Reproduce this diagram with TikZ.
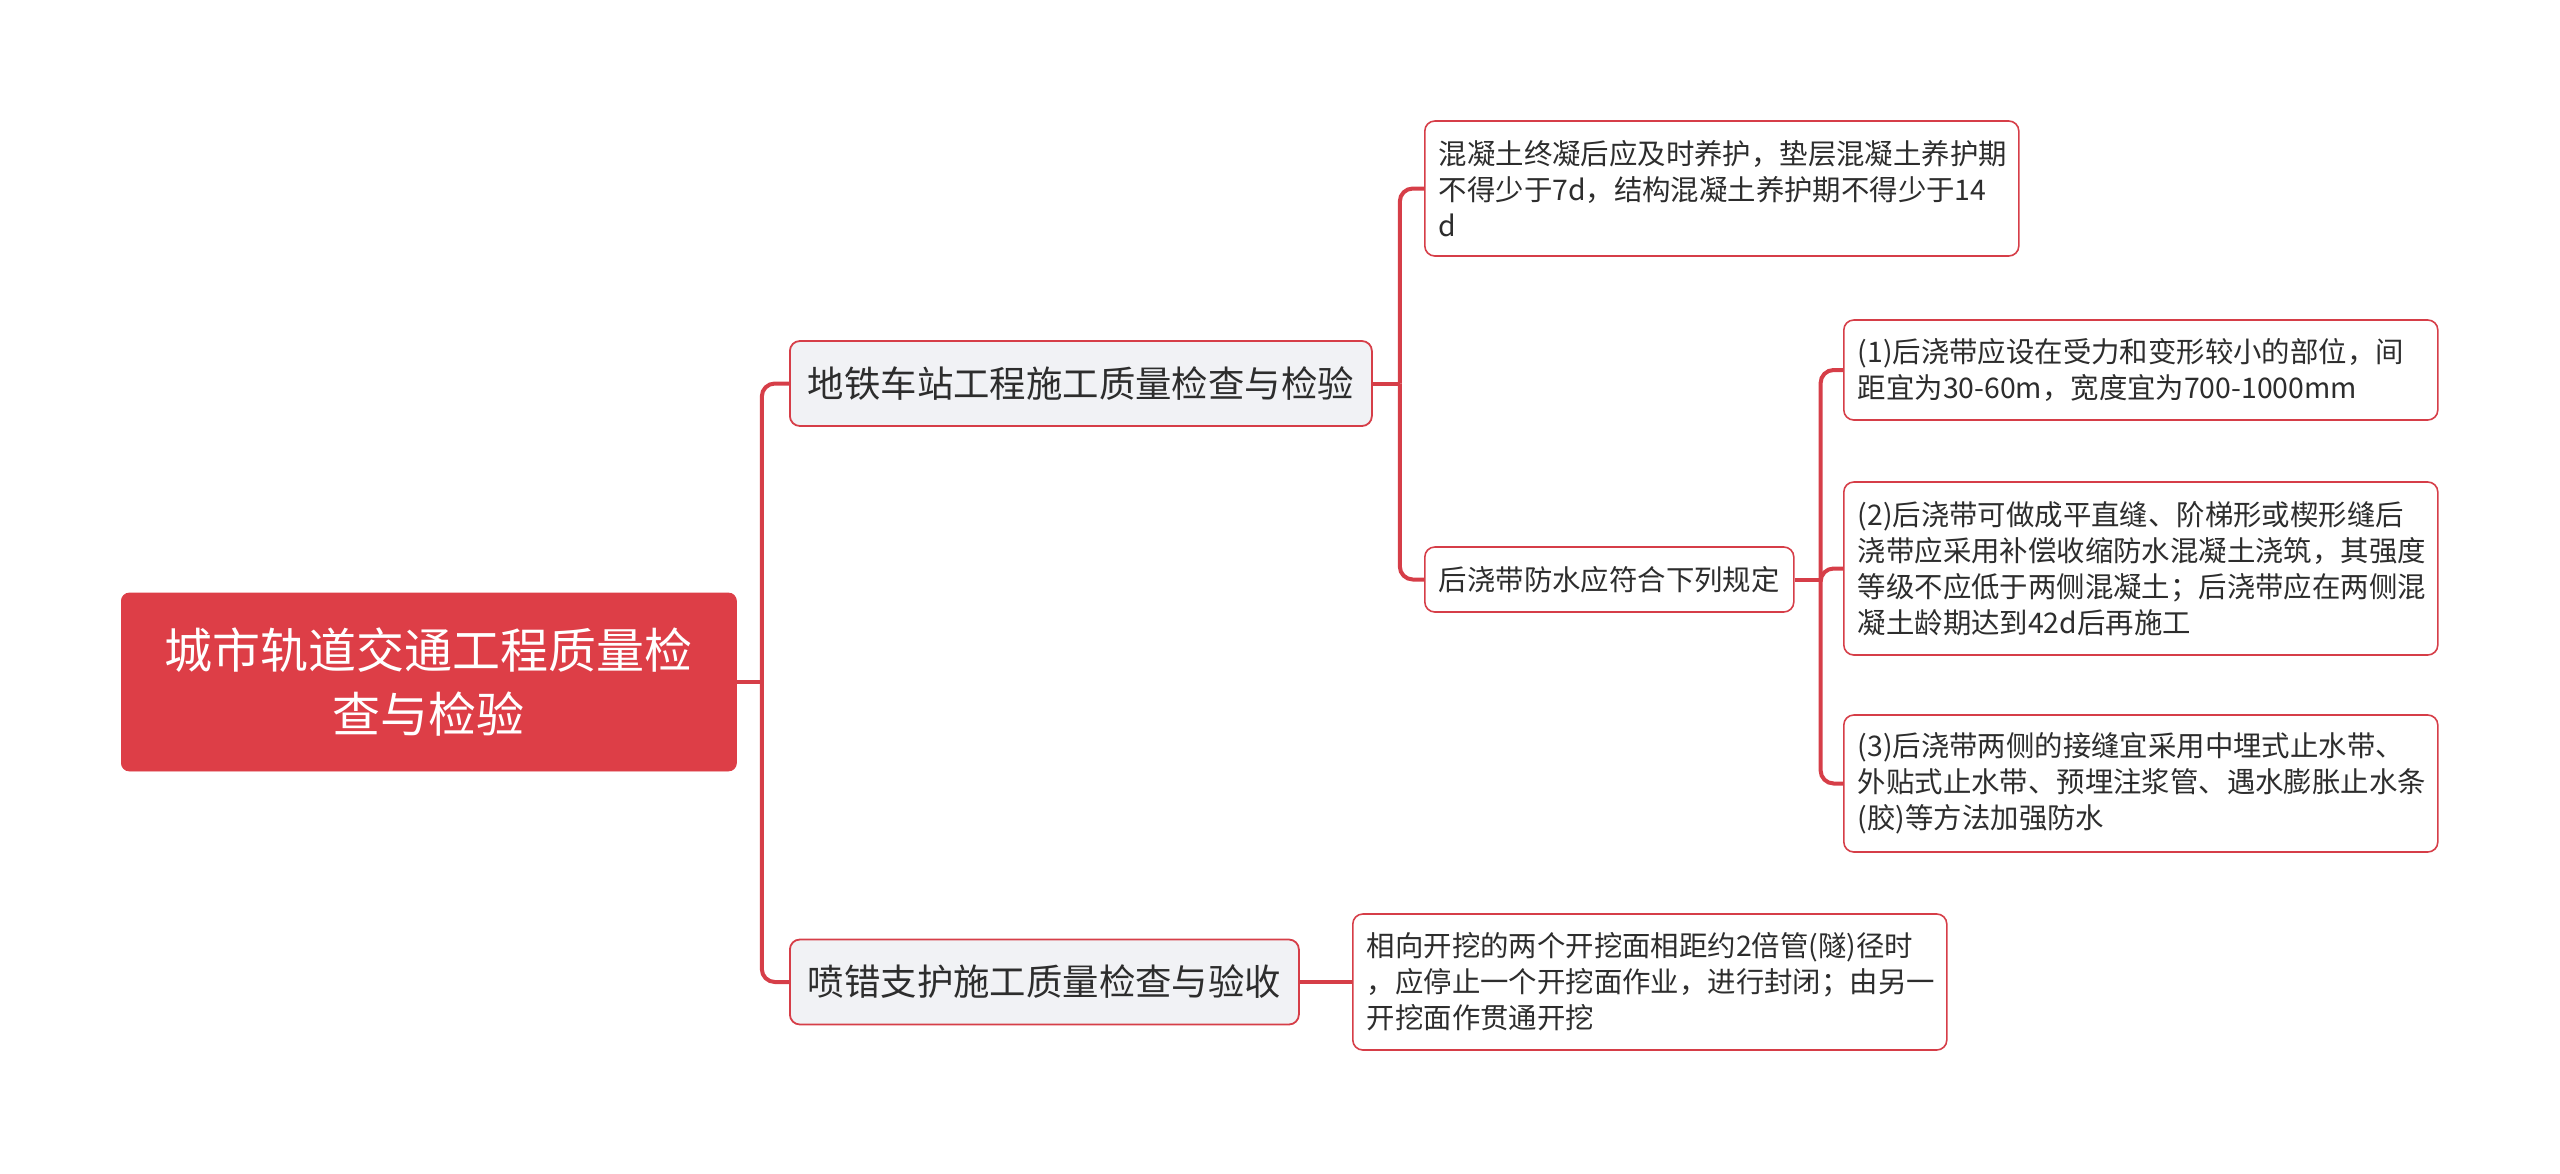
\documentclass[tikz,border=0pt]{standalone}
\usepackage{fontspec}
\setmainfont{Noto Sans CJK SC}
\definecolor{linkred}{RGB}{214,62,72}
\definecolor{rootred}{RGB}{221,62,71}
\definecolor{subgray}{RGB}{241,242,245}
\definecolor{txtdark}{RGB}{45,45,45}

\begin{document}
\begin{tikzpicture}[x=0.5pt,y=-0.5pt,
  link/.style={draw=linkred,line width=2pt,rounded corners=6.5pt},
  rootbox/.style={anchor=west,fill=rootred,draw=rootred,rounded corners=4pt,text=white,align=center,inner sep=0pt,font=\fontsize{24pt}{32pt}\selectfont},
  subbox/.style={anchor=west,fill=subgray,draw=linkred,line width=0.9pt,rounded corners=5pt,text=txtdark,inner sep=0pt,minimum height=42.5pt,font=\fontsize{18.2pt}{22pt}\selectfont},
  leafbox/.style={anchor=west,fill=white,draw=linkred,line width=0.8pt,rounded corners=5pt,text=txtdark,align=left,inner xsep=7pt,inner ysep=0pt,text width=283pt,font=\fontsize{14.2pt}{18pt}\selectfont},
  midbox/.style={anchor=west,fill=white,draw=linkred,line width=0.8pt,rounded corners=5pt,text=txtdark,inner sep=0pt,minimum width=184.5pt,minimum height=32.5pt,font=\fontsize{14.2pt}{18pt}\selectfont}]
\useasboundingbox (0,0) rectangle (2560,1173);

\node[rootbox,minimum width=307.5pt,minimum height=89pt] (root) at (121,682) {城市轨道交通工程质量检\\查与检验};

\node[subbox,minimum width=291pt] (station) at (789,383.5) {地铁车站工程施工质量检查与检验};
\node[subbox,minimum width=254.5pt] (spray) at (789,982) {喷错支护施工质量检查与验收};

\node[leafbox,minimum height=67.5pt] (curing) at (1424,188.5) {混凝土终凝后应及时养护，垫层混凝土养护期\\不得少于7d，结构混凝土养护期不得少于14\\d};
\node[midbox] (strip) at (1424,579.5) {后浇带防水应符合下列规定};

\node[leafbox,minimum height=50pt] (rule1) at (1843,370) {(1)后浇带应设在受力和变形较小的部位，间\\距宜为30-60m，宽度宜为700-1000mm};
\node[leafbox,minimum height=86.5pt] (rule2) at (1843,568.5) {(2)后浇带可做成平直缝、阶梯形或楔形缝后\\浇带应采用补偿收缩防水混凝土浇筑，其强度\\等级不应低于两侧混凝土；后浇带应在两侧混\\凝土龄期达到42d后再施工};
\node[leafbox,minimum height=68.5pt] (rule3) at (1843,783.5) {(3)后浇带两侧的接缝宜采用中埋式止水带、\\外贴式止水带、预埋注浆管、遇水膨胀止水条\\(胶)等方法加强防水};

\node[leafbox,minimum height=68pt] (face) at (1352,982) {相向开挖的两个开挖面相距约2倍管(隧)径时\\，应停止一个开挖面作业，进行封闭；由另一\\开挖面作贯通开挖};

\coordinate (rootfork) at ([xshift=12.5pt]root.east);
\coordinate (stationfork) at ([xshift=13.5pt]station.east);
\coordinate (stripfork) at ([xshift=13pt]strip.east);

\draw[link] (root.east) -- (rootfork);
\foreach \n in {station,spray} {\draw[link] (rootfork) |- (\n.west);}
\draw[link] (station.east) -- (stationfork);
\foreach \n in {curing,strip} {\draw[link] (stationfork) |- (\n.west);}
\draw[link] (strip.east) -- (stripfork);
\foreach \n in {rule1,rule2,rule3} {\draw[link] (stripfork) |- (\n.west);}
\draw[link] (spray.east) -- (face.west);
\end{tikzpicture}
\end{document}
